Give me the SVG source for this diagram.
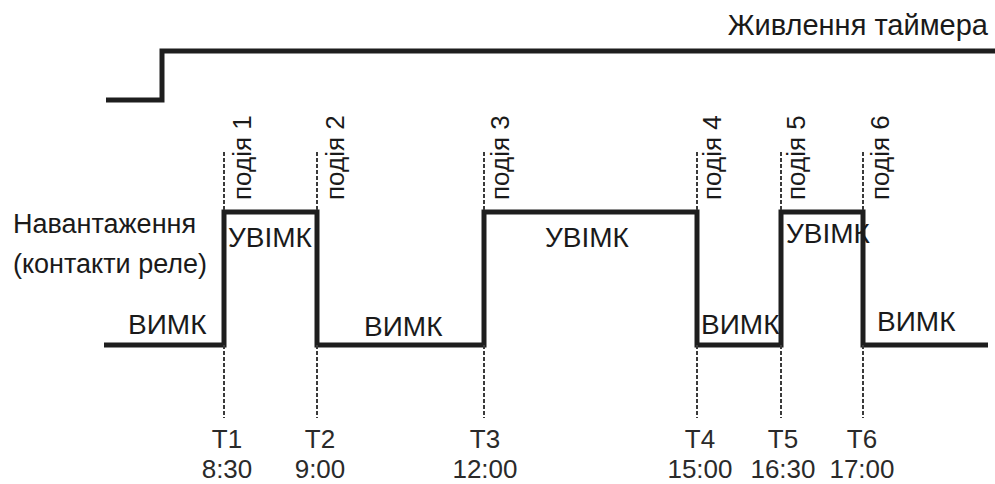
<svg xmlns="http://www.w3.org/2000/svg" width="995" height="484" viewBox="0 0 995 484">
<style>
.sig{fill:none;stroke:#1e1e1e;stroke-width:5;stroke-linejoin:miter;stroke-linecap:butt}
.dash{fill:none;stroke:#3a3a3a;stroke-width:2;stroke-dasharray:4 2}
.t{font-family:"Liberation Sans",Arial,sans-serif;fill:#1a1a1a}
.lbl{font-size:27px}
.st{font-size:28px}
.ev{font-size:26px}
.tm{font-size:26px;text-anchor:middle;fill:#2a2a2a}
</style>
<rect width="995" height="484" fill="#ffffff"/>
<g id="power">
<polyline class="sig" points="106,100 162,100 162,51 995,51"/>
<text class="t" x="988" y="35" font-size="29" text-anchor="end">Живлення таймера</text>
</g>
<g id="connectors">
<polyline class="sig" points="104,345 224,345 224,212 317,212 317,345 484,345 484,212 697,212 697,345 781,345 781,212 863,212 863,345 988,345"/>
<g id="markers-top">
<line class="dash" x1="224" y1="152" x2="224" y2="212"/>
<line class="dash" x1="317" y1="152" x2="317" y2="212"/>
<line class="dash" x1="484" y1="152" x2="484" y2="212"/>
<line class="dash" x1="697" y1="152" x2="697" y2="212"/>
<line class="dash" x1="781" y1="152" x2="781" y2="212"/>
<line class="dash" x1="863" y1="152" x2="863" y2="212"/>
</g>
<g id="markers-bottom">
<line class="dash" x1="224" y1="345" x2="224" y2="418"/>
<line class="dash" x1="317" y1="345" x2="317" y2="418"/>
<line class="dash" x1="484" y1="345" x2="484" y2="418"/>
<line class="dash" x1="697" y1="345" x2="697" y2="418"/>
<line class="dash" x1="781" y1="345" x2="781" y2="418"/>
<line class="dash" x1="863" y1="345" x2="863" y2="418"/>
</g>
</g>
<g id="load-label">
<text class="t lbl" x="13" y="233">Навантаження</text>
<text class="t lbl" x="13" y="273">(контакти реле)</text>
</g>
<g id="states">
<text class="t st" x="128" y="334">ВИМК</text>
<text class="t st" x="228" y="247">УВІМК</text>
<text class="t st" x="364" y="336">ВИМК</text>
<text class="t st" x="545" y="247">УВІМК</text>
<text class="t st" x="701" y="334">ВИМК</text>
<text class="t st" x="786" y="243">УВІМК</text>
<text class="t st" x="877" y="331">ВИМК</text>
</g>
<g id="events">
<text class="t ev" transform="translate(251,200) rotate(-90)">подія 1</text>
<text class="t ev" transform="translate(344,200) rotate(-90)">подія 2</text>
<text class="t ev" transform="translate(509,200) rotate(-90)">подія 3</text>
<text class="t ev" transform="translate(721,200) rotate(-90)">подія 4</text>
<text class="t ev" transform="translate(805,200) rotate(-90)">подія 5</text>
<text class="t ev" transform="translate(889,200) rotate(-90)">подія 6</text>
</g>
<g id="times">
<text class="t tm" x="227" y="448">T1</text><text class="t tm" x="227" y="478">8:30</text>
<text class="t tm" x="320" y="448">T2</text><text class="t tm" x="320" y="478">9:00</text>
<text class="t tm" x="485" y="448">T3</text><text class="t tm" x="485" y="478">12:00</text>
<text class="t tm" x="700" y="448">T4</text><text class="t tm" x="700" y="478">15:00</text>
<text class="t tm" x="783" y="448">T5</text><text class="t tm" x="783" y="478">16:30</text>
<text class="t tm" x="862" y="448">T6</text><text class="t tm" x="862" y="478">17:00</text>
</g>
</svg>
